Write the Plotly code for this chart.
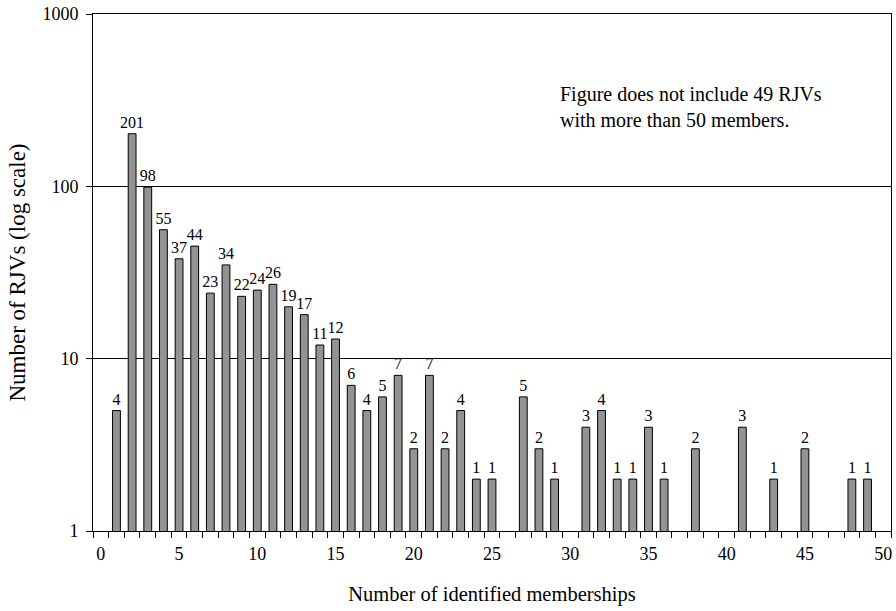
import plotly.graph_objects as go

# Number of identified memberships (category) and number of RJVs
memberships = [1, 2, 3, 4, 5, 6, 7, 8, 9, 10, 11, 12, 13, 14, 15, 16, 17, 18, 19, 20,
               21, 22, 23, 24, 25, 27, 28, 29, 31, 32, 33, 34, 35, 36, 38, 41, 43, 45, 48, 49]
rjv_counts = [4, 201, 98, 55, 37, 44, 23, 34, 22, 24, 26, 19, 17, 11, 12, 6, 4, 5, 7, 2,
              7, 2, 4, 1, 1, 5, 2, 1, 3, 4, 1, 1, 3, 1, 2, 3, 1, 2, 1, 1]
# plotted on log scale as count + 1
bar_heights = [c + 1 for c in rjv_counts]

y_ticks = [1, 10, 100, 1000]
x_ticks = list(range(0, 51, 5))

FONT = "Liberation Serif"

fig = go.Figure()
fig.add_trace(go.Bar(
    x=memberships,
    y=bar_heights,
    width=0.5,
    marker=dict(color="#939393", line=dict(color="#000000", width=1)),
    text=[str(c) for c in rjv_counts],
    textposition="outside",
    constraintext="none",
    outsidetextfont=dict(family=FONT, size=16, color="#000000"),
    textfont=dict(family=FONT, size=16, color="#000000"),
    cliponaxis=False,
    hoverinfo="x+text",
))

fig.add_annotation(
    x=0.583, y=0.82, xref="paper", yref="paper",
    text="Figure does not include 49 RJVs<br>with more than 50 members.",
    showarrow=False, align="left", xanchor="left", yanchor="middle",
    font=dict(family=FONT, size=20, color="#000000"),
)

fig.update_layout(
    width=896, height=611,
    margin=dict(l=93, r=5, t=14, b=80),
    paper_bgcolor="white", plot_bgcolor="white",
    showlegend=False,
    font=dict(family=FONT, size=18, color="#000000"),
    xaxis=dict(
        range=[-0.5, 50.5],
        tickvals=x_ticks,
        ticktext=[str(v) for v in x_ticks],
        ticks="",
        ticklabelstandoff=6,
        showgrid=False,
        showline=True, linecolor="#000000", linewidth=1, mirror=True,
        zeroline=False,
        automargin=False,
        tickfont=dict(family=FONT, size=18),
        minor=dict(tick0=0.5, dtick=1, ticks="outside", ticklen=6,
                   tickcolor="#000000", showgrid=False),
        title=dict(text="Number of identified memberships",
                   font=dict(family=FONT, size=20.5), standoff=24),
    ),
    yaxis=dict(
        type="log",
        range=[0, 3],
        tickvals=y_ticks,
        ticktext=[str(v) for v in y_ticks],
        ticks="outside", ticklen=6, tickcolor="#000000",
        ticklabelstandoff=4,
        showgrid=True, gridcolor="#000000", gridwidth=1,
        showline=True, linecolor="#000000", linewidth=1, mirror=True,
        zeroline=False,
        automargin=False,
        tickfont=dict(family=FONT, size=18),
        title=dict(text="Number of RJVs (log scale)",
                   font=dict(family=FONT, size=23), standoff=10),
    ),
)

fig.write_html("out.html", config={"displayModeBar": False},
               post_script="document.body.style.margin='0';")
